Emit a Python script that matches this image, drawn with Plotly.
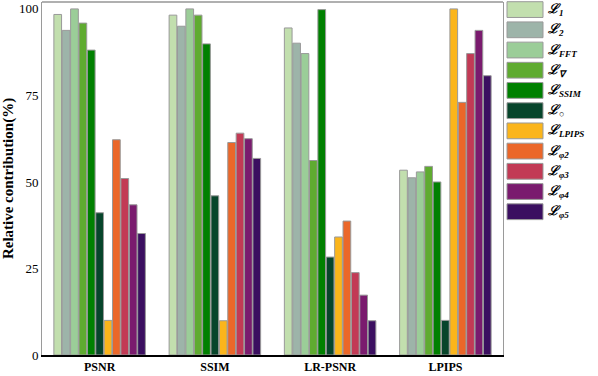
import plotly.graph_objects as go

W, H = 598, 376
L_M, R_M, T_M, B_M = 42, 95, 2, 16

metrics = ["PSNR", "SSIM", "LR-PSNR", "LPIPS"]

series = ["L1", "L2", "LFFT", "Lgrad", "LSSIM", "Lo", "LLPIPS", "Lphi2", "Lphi3", "Lphi4", "Lphi5"]
labels = [
    "ℒ<sub>1</sub>", "ℒ<sub>2</sub>", "ℒ<sub>FFT</sub>", "ℒ<sub>∇</sub>", "ℒ<sub>SSIM</sub>",
    "ℒ<sub>○</sub>", "ℒ<sub>LPIPS</sub>", "ℒ<sub>φ2</sub>", "ℒ<sub>φ3</sub>", "ℒ<sub>φ4</sub>", "ℒ<sub>φ5</sub>",
]
colors = ["#c2dfae", "#9db4a9", "#9bcd98", "#5fab30", "#008000", "#07452b",
          "#fbb51b", "#eb6729", "#c23a55", "#7a1b6e", "#3b0f60"]

# values per metric (PSNR, SSIM, LR-PSNR, LPIPS)
L1 = [98.4, 98.2, 94.5, 53.4]
L2 = [93.8, 95.0, 90.1, 51.2]
LFFT = [100.0, 100.0, 87.1, 52.9]
Lgrad = [95.9, 98.2, 56.2, 54.5]
LSSIM = [88.1, 89.9, 99.8, 50.0]
Lo = [41.1, 46.0, 28.3, 10.0]
LLPIPS = [10.0, 9.9, 34.1, 100.0]
Lphi2 = [62.2, 61.4, 38.7, 73.0]
Lphi3 = [51.0, 64.1, 23.8, 87.1]
Lphi4 = [43.4, 62.5, 17.3, 93.8]
Lphi5 = [35.1, 56.8, 9.9, 80.7]

values = [L1, L2, LFFT, Lgrad, LSSIM, Lo, LLPIPS, Lphi2, Lphi3, Lphi4, Lphi5]

SERIF = "Liberation Serif, Times New Roman, serif"


def px_x(p):
    return (p - L_M) / (W - L_M - R_M)


def px_y(p):
    return (H - B_M - p) / (H - T_M - B_M)


fig = go.Figure()
for name, vals, col in zip(series, values, colors):
    fig.add_bar(
        x=metrics, y=vals, name=name,
        marker=dict(color=col, line=dict(color="#999999", width=1)),
        showlegend=False,
    )

# legend drawn by hand: wide swatches like the original
shapes = []
annotations = []
for i, (lab, col) in enumerate(zip(labels, colors)):
    top = 1.7 + i * 20.5
    shapes.append(dict(
        type="rect", xref="paper", yref="paper",
        x0=px_x(507), x1=px_x(543), y0=px_y(top + 16), y1=px_y(top),
        fillcolor=col, line=dict(color="#999999", width=1),
    ))
    annotations.append(dict(
        xref="paper", yref="paper", x=px_x(546), y=px_y(top + 8),
        xanchor="left", yanchor="middle", showarrow=False,
        text="<b><i>" + lab + "</i></b>",
        font=dict(family=SERIF, size=13, color="black"),
    ))

# top border of the frame
shapes.append(dict(type="line", xref="paper", yref="paper", x0=0, x1=1, y0=1, y1=1,
                   line=dict(color="#b0b0b0", width=2)))

fig.update_layout(
    width=W, height=H,
    margin=dict(l=L_M, r=R_M, t=T_M, b=B_M),
    paper_bgcolor="white", plot_bgcolor="white",
    barmode="group", bargap=0.2, bargroupgap=0.08,
    shapes=shapes, annotations=annotations,
    font=dict(family=SERIF, color="black"),
)
fig.update_xaxes(
    showline=True, linecolor="black", linewidth=1.5, showgrid=False, ticks="",
    tickfont=dict(family=SERIF, size=12),
    tickprefix="<b>", ticksuffix="</b>",
)
fig.update_yaxes(
    range=[0, 102], tickvals=[0, 25, 50, 75, 100], showgrid=False, zeroline=False,
    showline=True, linecolor="#9a9a9a", linewidth=1, mirror=True, ticks="",
    tickfont=dict(family=SERIF, size=13), tickprefix="<b>", ticksuffix="</b>",
    title=dict(text="<b>Relative contribution(%)</b>", font=dict(family=SERIF, size=15), standoff=6),
)

fig.write_html("out.html", config={"displayModeBar": False},
               post_script="document.body.style.margin='0';")
